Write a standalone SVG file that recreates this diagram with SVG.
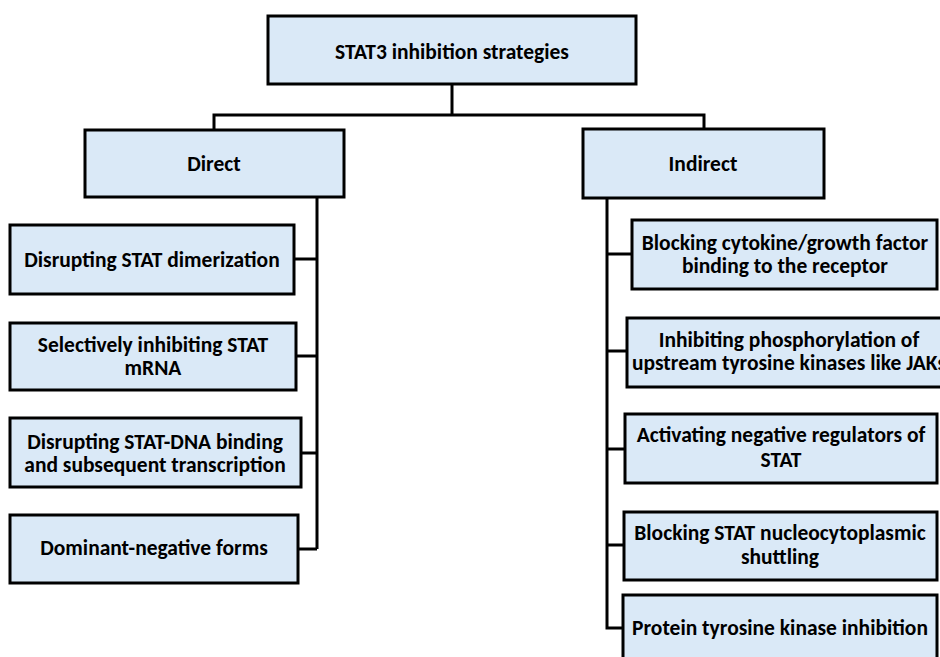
<svg xmlns="http://www.w3.org/2000/svg" width="940" height="657" viewBox="0 0 940 657">
<style>
.box{fill:#DAE9F7;stroke:#000;stroke-width:3}
.t{font-family:Carlito,Lato,"Liberation Sans",sans-serif;font-weight:bold;font-size:21.5px;fill:#000;text-anchor:middle}
.c{fill:none;stroke:#000;stroke-width:3}
</style>
<rect width="940" height="657" fill="#fff"/>
<g id="connectors">
<polyline class="c" points="452,84 452,115"/>
<polyline class="c" points="214,130 214,115 704,115 704,129"/>
<polyline class="c" points="317,197 317,549"/>
<polyline class="c" points="294,259 317,259"/>
<polyline class="c" points="296,356 317,356"/>
<polyline class="c" points="301,453 317,453"/>
<polyline class="c" points="298,549 317,549"/>
<polyline class="c" points="607,198 607,628 623,628"/>
<polyline class="c" points="607,254 632,254"/>
<polyline class="c" points="607,351 627,351"/>
<polyline class="c" points="607,449 625,449"/>
<polyline class="c" points="607,545 624,545"/>
</g>
<g id="root"><rect class="box" x="268" y="16" width="368" height="68"/><text class="t" x="452" y="59">STAT3 inhibition strategies</text></g>
<g id="direct"><rect class="box" x="85" y="130" width="259" height="67"/><text class="t" x="214" y="171">Direct</text></g>
<g id="indirect"><rect class="box" x="583" y="129" width="241" height="69"/><text class="t" x="703" y="171">Indirect</text></g>
<g id="d1"><rect class="box" x="10" y="225" width="284" height="69"/><text class="t" x="152" y="267">Disrupting STAT dimerization</text></g>
<g id="d2"><rect class="box" x="10" y="323" width="286" height="67"/><text class="t" x="153" y="352">Selectively inhibiting STAT</text><text class="t" x="153" y="375">mRNA</text></g>
<g id="d3"><rect class="box" x="10" y="418" width="291" height="69"/><text class="t" x="155" y="449">Disrupting STAT-DNA binding</text><text class="t" x="155" y="472">and subsequent transcription</text></g>
<g id="d4"><rect class="box" x="10" y="515" width="288" height="68"/><text class="t" x="154" y="555">Dominant-negative forms</text></g>
<g id="i1"><rect class="box" x="632" y="220" width="305" height="69"/><text class="t" x="785" y="250">Blocking  cytokine/growth factor</text><text class="t" x="785" y="273">binding to the receptor</text></g>
<g id="i2"><rect class="box" x="627" y="318" width="323" height="69"/><text class="t" x="789" y="347">Inhibiting phosphorylation of</text><text class="t" x="789" y="370">upstream tyrosine kinases like JAKs</text></g>
<g id="i3"><rect class="box" x="625" y="414" width="312" height="69"/><text class="t" x="781" y="442">Activating negative regulators of</text><text class="t" x="781" y="467">STAT</text></g>
<g id="i4"><rect class="box" x="624" y="512" width="313" height="68"/><text class="t" x="780" y="540">Blocking STAT nucleocytoplasmic</text><text class="t" x="780" y="564">shuttling</text></g>
<g id="i5"><rect class="box" x="623" y="595" width="314" height="80"/><text class="t" x="780" y="635">Protein tyrosine kinase inhibition</text></g>
</svg>
